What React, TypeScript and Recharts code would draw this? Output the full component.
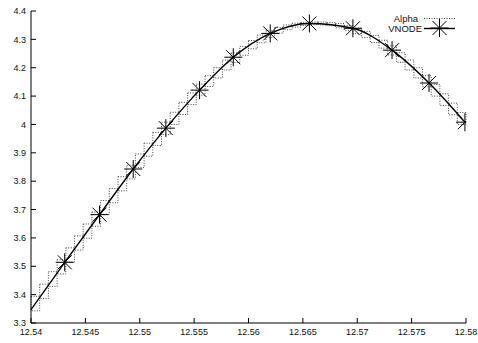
import React from 'react';
import { ComposedChart, Line, XAxis, YAxis, ReferenceArea } from 'recharts';

const xTicks = [12.54, 12.545, 12.55, 12.555, 12.56, 12.565, 12.57, 12.575, 12.58];
const xTickLabels = ['12.54', '12.545', '12.55', '12.555', '12.56', '12.565', '12.57', '12.575', '12.58'];
const yTicks = [3.3, 3.4, 3.5, 3.6, 3.7, 3.8, 3.9, 4.0, 4.1, 4.2, 4.3, 4.4];
const yTickLabels = ['3.3', '3.4', '3.5', '3.6', '3.7', '3.8', '3.9', '4', '4.1', '4.2', '4.3', '4.4'];

// VNODE curve: start of curve, then the marked points
const vnodeX = [12.54, 12.5431, 12.5463, 12.5494, 12.5524, 12.5555, 12.5586, 12.562, 12.5656, 12.5696, 12.5732, 12.5766, 12.5799];
const vnodeY = [3.347, 3.514, 3.682, 3.843, 3.987, 4.121, 4.237, 4.321, 4.356, 4.339, 4.262, 4.146, 4.008];

// Alpha enclosure boxes (dotted): x boundaries and [lo, hi] per box
const alphaX = [
  12.5400, 12.5408, 12.5416, 12.5424, 12.5432, 12.5440, 12.5448, 12.5456, 12.5464, 12.5472,
  12.5480, 12.5488, 12.5496, 12.5504, 12.5512, 12.5520, 12.5528, 12.5536, 12.5544, 12.5552,
  12.5560, 12.5568, 12.5576, 12.5584, 12.5592, 12.5600, 12.5608, 12.5616, 12.5624, 12.5632,
  12.5640, 12.5648, 12.5656, 12.5664, 12.5672, 12.5680, 12.5688, 12.5696, 12.5704, 12.5712,
  12.5720, 12.5728, 12.5736, 12.5744, 12.5752, 12.5760, 12.5768, 12.5776, 12.5784, 12.5792,
  12.5800,
];
const alphaLo = [
  3.343, 3.386, 3.429, 3.473, 3.515, 3.557, 3.599, 3.641, 3.683, 3.724,
  3.766, 3.808, 3.848, 3.888, 3.926, 3.964, 4.000, 4.035, 4.070, 4.103,
  4.134, 4.164, 4.192, 4.219, 4.244, 4.267, 4.288, 4.307, 4.322, 4.334,
  4.343, 4.349, 4.352, 4.351, 4.348, 4.341, 4.332, 4.320, 4.306, 4.289,
  4.269, 4.245, 4.219, 4.192, 4.164, 4.133, 4.100, 4.067, 4.034, 4.000,
];
const alphaHi = [
  3.394, 3.437, 3.481, 3.523, 3.565, 3.607, 3.649, 3.691, 3.732, 3.774,
  3.816, 3.856, 3.896, 3.934, 3.972, 4.008, 4.043, 4.078, 4.111, 4.142,
  4.172, 4.200, 4.227, 4.252, 4.275, 4.296, 4.315, 4.330, 4.342, 4.351,
  4.357, 4.360, 4.361, 4.361, 4.359, 4.356, 4.349, 4.340, 4.328, 4.314,
  4.297, 4.277, 4.253, 4.227, 4.200, 4.172, 4.141, 4.108, 4.075, 4.042,
];

const vnodeData = vnodeX.map((x, i) => ({ x, y: vnodeY[i] }));

const FONT = 'Liberation Sans, Arial, Helvetica, sans-serif';

const starLines = (cx: number, cy: number) => (
  <>
    <line x1={cx - 9} y1={cy} x2={cx + 9} y2={cy} />
    <line x1={cx} y1={cy - 9} x2={cx} y2={cy + 9} />
    <line x1={cx - 7} y1={cy - 7} x2={cx + 7} y2={cy + 7} />
    <line x1={cx - 7} y1={cy + 7} x2={cx + 7} y2={cy - 7} />
  </>
);

const StarDot = (props: any) => {
  const { cx, cy, index } = props;
  if (index === 0 || cx == null || cy == null) return <g key={`s${index}`} />;
  return (
    <g key={`s${index}`} stroke="#000" strokeWidth={1}>
      {starLines(cx, cy)}
    </g>
  );
};

export default function App() {
  const tickStyle = { fill: '#111', fontSize: 9, fontFamily: FONT };
  return (
    <div style={{ position: 'absolute', left: 0, top: 0, width: 478, height: 343, background: '#fff' }}>
      <ComposedChart width={478} height={343} margin={{ top: 11, right: 12, bottom: 0, left: 0 }}>
        <XAxis
          xAxisId={0}
          dataKey="x"
          type="number"
          domain={[12.54, 12.58]}
          ticks={xTicks}
          tickFormatter={(_v: any, i: number) => xTickLabels[i]}
          allowDataOverflow
          height={20}
          tickSize={-5}
          tickMargin={10.5}
          stroke="#000"
          tick={tickStyle}
          interval={0}
        />
        <XAxis
          xAxisId="top"
          orientation="top"
          type="number"
          domain={[12.54, 12.58]}
          ticks={xTicks}
          allowDataOverflow
          height={0}
          tickSize={-5}
          stroke="#555"
          tick={false}
        />
        <YAxis
          yAxisId={0}
          type="number"
          domain={[3.3, 4.4]}
          ticks={yTicks}
          tickFormatter={(_v: any, i: number) => yTickLabels[i]}
          allowDataOverflow
          width={31}
          tickSize={-5}
          tickMargin={10}
          stroke="#000"
          tick={tickStyle}
          interval={0}
        />
        <YAxis
          yAxisId="right"
          orientation="right"
          type="number"
          domain={[3.3, 4.4]}
          ticks={yTicks}
          allowDataOverflow
          width={0}
          tickSize={-5}
          stroke="#000"
          tick={false}
        />
        {alphaLo.map((lo, i) => (
          <ReferenceArea
            key={`a${i}`}
            xAxisId={0}
            yAxisId={0}
            x1={alphaX[i]}
            x2={alphaX[i + 1]}
            y1={lo}
            y2={alphaHi[i]}
            fill="none"
            fillOpacity={0}
            stroke="#444"
            strokeWidth={1}
            strokeDasharray="1 1.5"
            ifOverflow="visible"
          />
        ))}
        <Line
          xAxisId={0}
          yAxisId={0}
          data={vnodeData}
          dataKey="y"
          type="monotone"
          stroke="#000"
          strokeWidth={1.4}
          dot={StarDot}
          activeDot={false}
          isAnimationActive={false}
          legendType="none"
        />
      </ComposedChart>
      <svg
        width={478}
        height={343}
        style={{ position: 'absolute', left: 0, top: 0, pointerEvents: 'none' }}
      >
        <text x={418} y={21.5} textAnchor="end" fontSize={9.5} fontFamily={FONT} fill="#111">
          Alpha
        </text>
        <line x1={424} y1={18.5} x2={455} y2={18.5} stroke="#444" strokeDasharray="1 1.5" />
        <text x={422} y={32} textAnchor="end" fontSize={9.5} fontFamily={FONT} fill="#111">
          VNODE
        </text>
        <line x1={424} y1={28.5} x2={455} y2={28.5} stroke="#000" strokeWidth={1.4} />
        <g stroke="#000" strokeWidth={1}>
          {starLines(439.5, 28)}
        </g>
      </svg>
    </div>
  );
}
